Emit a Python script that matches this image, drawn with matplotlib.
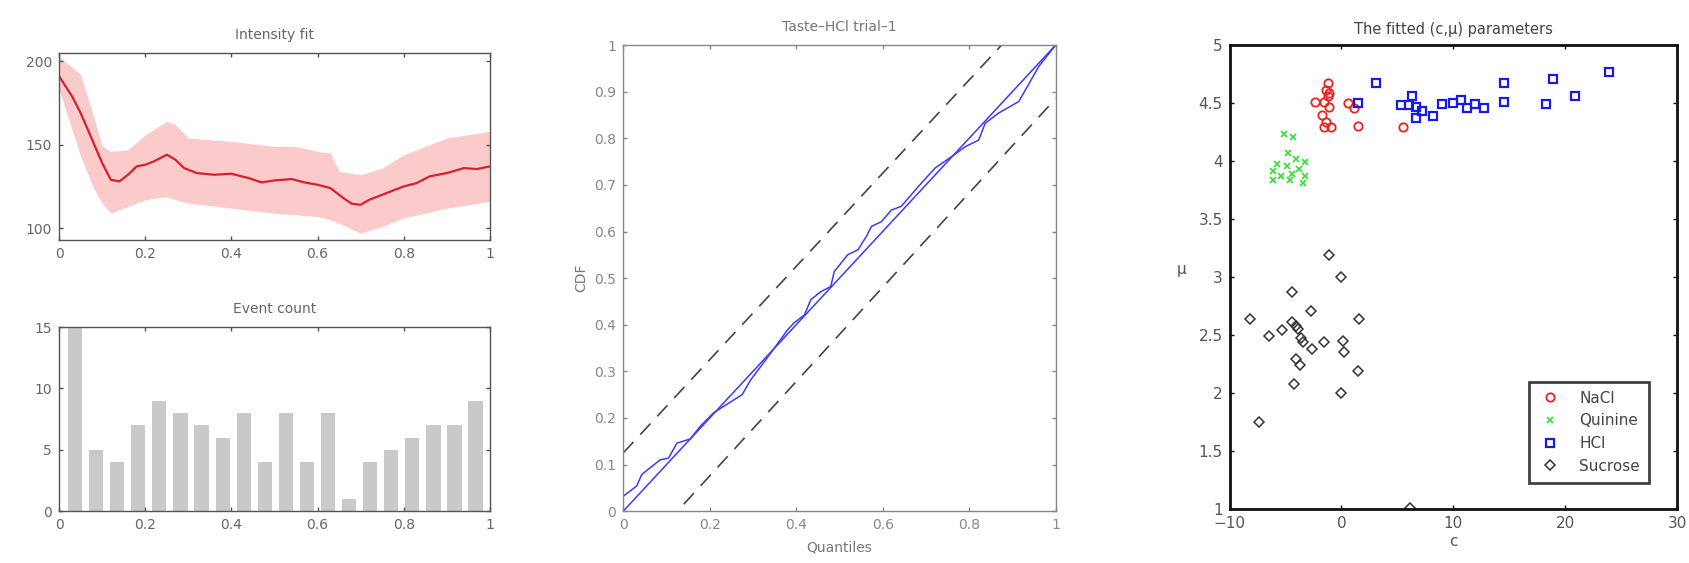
import matplotlib
matplotlib.use('Agg')
import matplotlib.pyplot as plt
from matplotlib.ticker import FuncFormatter
import numpy as np

# --- intensity fit (top left)
t_fit = [0, 0.03, 0.05, 0.08, 0.1, 0.12, 0.14, 0.16, 0.18, 0.2, 0.22, 0.25, 0.27, 0.29,
         0.32, 0.36, 0.4, 0.44, 0.47, 0.5, 0.54, 0.57, 0.6, 0.63, 0.66, 0.68, 0.7, 0.72,
         0.75, 0.78, 0.8, 0.83, 0.86, 0.9, 0.94, 0.97, 1.0]
rate_fit = [191, 179, 169, 151, 139, 129, 128, 132, 137, 138, 140, 144, 141, 136,
            133, 132, 132.6, 130, 127.4, 128.6, 129.4, 127.4, 126, 124, 118, 114.6, 114, 117,
            120, 123, 125, 127, 131, 133, 136, 135.4, 137]
t_band = [0, 0.05, 0.08, 0.1, 0.12, 0.16, 0.2, 0.25, 0.27, 0.3, 0.4, 0.5, 0.55, 0.6,
          0.63, 0.65, 0.7, 0.75, 0.8, 0.85, 0.9, 1.0]
band_hi = [203, 192, 167, 149, 146, 147, 156, 164, 162, 154, 152, 149, 149, 146,
           145, 134, 132, 136, 144, 149, 154, 158]
band_lo = [183, 143, 124, 115, 109, 113, 117, 119, 117, 115, 112, 109, 108, 107,
           105, 103, 97, 101, 106, 109, 112, 116]

# --- event count (bottom left)
bin_centers = np.linspace(0.037, 0.967, 20)
counts = [15, 5, 4, 7, 9, 8, 7, 6, 8, 4, 8, 4, 8, 1, 4, 5, 6, 7, 7, 9]

# --- KS plot (middle)
ks_x = [0, 0.031, 0.043, 0.085, 0.105, 0.124, 0.155, 0.178, 0.209, 0.256, 0.275, 0.295,
        0.341, 0.38, 0.395, 0.419, 0.434, 0.457, 0.48, 0.488, 0.519, 0.543, 0.562, 0.574,
        0.597, 0.62, 0.643, 0.682, 0.721, 0.76, 0.791, 0.822, 0.837, 0.868, 0.915, 0.961, 1.0]
ks_y = [0.032, 0.054, 0.079, 0.11, 0.114, 0.146, 0.155, 0.182, 0.211, 0.239, 0.25, 0.282,
        0.339, 0.389, 0.404, 0.421, 0.454, 0.471, 0.482, 0.514, 0.55, 0.561, 0.589, 0.611,
        0.621, 0.646, 0.654, 0.696, 0.736, 0.761, 0.782, 0.796, 0.832, 0.854, 0.879, 0.954, 1.0]
upper_x = [0, 0.875]
upper_y = [0.125, 1]
lower_x = [0.14, 1]
lower_y = [0.015, 0.885]

# --- fitted parameters (right)
nacl_c = [-1.25, -1.4, -1.25, -2.4, -1.6, -1.1, -1.75, -1.4, -1.6, -0.9, 0.6, 1.1, 1.45, 5.5, -1.1]
nacl_mu = [4.67, 4.61, 4.56, 4.51, 4.51, 4.47, 4.4, 4.34, 4.29, 4.29, 4.5, 4.46, 4.3, 4.29, 4.59]
quin_c = [-5.1, -4.3, -4.8, -4.1, -3.3, -5.8, -4.9, -3.8, -6.1, -4.4, -3.3, -6.1, -3.4, -5.4, -4.6]
quin_mu = [4.23, 4.21, 4.07, 4.02, 3.99, 3.97, 3.96, 3.93, 3.91, 3.89, 3.87, 3.84, 3.81, 3.87, 3.84]
hcl_c = [3.1, 1.45, 5.3, 6.0, 6.3, 6.65, 7.2, 6.65, 8.2, 9.0, 10.0, 10.7, 11.2, 11.9, 12.7,
         14.55, 14.55, 18.25, 18.9, 20.9, 23.9]
hcl_mu = [4.67, 4.5, 4.48, 4.48, 4.56, 4.47, 4.43, 4.37, 4.39, 4.49, 4.5, 4.53, 4.46, 4.49, 4.46,
          4.67, 4.51, 4.49, 4.71, 4.56, 4.77]
suc_c = [-1.1, -0.07, -4.45, -8.2, -2.75, 1.6, -6.45, -5.3, -4.45, -4.1, -3.9, -3.6, -3.4,
         -2.6, -1.6, 0.1, 0.25, -4.1, -3.75, 1.45, -4.2, 0.0, -7.4, 6.15]
suc_mu = [3.19, 3.0, 2.87, 2.64, 2.71, 2.64, 2.49, 2.54, 2.61, 2.58, 2.55, 2.47, 2.44,
          2.38, 2.44, 2.45, 2.35, 2.29, 2.24, 2.19, 2.08, 2.0, 1.75, 1.01]

gfmt = FuncFormatter(lambda v, p: ('%g' % round(v, 6)).replace('-', '\u2212'))


def matlab_axes(ax, tcol='#666666', scol='#555555', lw=1.0, fs=10):
    for s in ax.spines.values():
        s.set_color(scol)
        s.set_linewidth(lw)
    ax.tick_params(direction='in', top=True, right=True, length=3, width=1,
                   colors=scol, labelcolor=tcol, labelsize=fs, pad=5)
    ax.xaxis.set_major_formatter(gfmt)
    ax.yaxis.set_major_formatter(gfmt)


fig = plt.figure(figsize=(16.89, 5.63), dpi=100)

# top left
ax1 = fig.add_axes([0.035, 0.574, 0.255, 0.332])
ax1.fill_between(t_band, band_lo, band_hi, color='#fbcaca', lw=0)
ax1.plot(t_fit, rate_fit, color='#d8202a', lw=1.6)
ax1.set_xlim(0, 1)
ax1.set_ylim(93, 205)
ax1.set_xticks([0, 0.2, 0.4, 0.6, 0.8, 1])
ax1.set_yticks([100, 150, 200])
ax1.set_title('Intensity fit', fontsize=10, color='#666666', pad=10)
matlab_axes(ax1)

# bottom left
ax2 = fig.add_axes([0.035, 0.092, 0.255, 0.327])
ax2.bar(bin_centers, counts, width=0.033, color='#c8c9c8')
ax2.set_xlim(0, 1)
ax2.set_ylim(0, 15)
ax2.set_xticks([0, 0.2, 0.4, 0.6, 0.8, 1])
ax2.set_yticks([0, 5, 10, 15])
ax2.set_title('Event count', fontsize=10, color='#666666', pad=10)
matlab_axes(ax2)

# middle
ax3 = fig.add_axes([0.369, 0.092, 0.256, 0.828])
ax3.plot([0, 1], [0, 1], color='#3c3cf0', lw=1.1)
ax3.plot(ks_x, ks_y, color='#3c3cf0', lw=1.1)
ax3.plot(upper_x, upper_y, color='#444444', lw=1.2, ls=(0, (9, 6)))
ax3.plot(lower_x, lower_y, color='#444444', lw=1.2, ls=(0, (9, 6)))
ax3.set_xlim(0, 1)
ax3.set_ylim(0, 1)
ax3.set_xticks(np.arange(0, 1.01, 0.2))
ax3.set_yticks(np.arange(0, 1.01, 0.1))
ax3.set_title('Taste\u2013HCl trial\u20131', fontsize=10, color='#777777', pad=10)
ax3.set_xlabel('Quantiles', fontsize=10, color='#777777', labelpad=6)
ax3.set_ylabel('CDF', fontsize=10, color='#777777', labelpad=4)
matlab_axes(ax3, tcol='#888888', scol='#888888')

# right
ax4 = fig.add_axes([0.728, 0.096, 0.265, 0.824])
ax4.plot(nacl_c, nacl_mu, 'o', mfc='none', mec='#ee2020', mew=1.3, ms=6, label='NaCl')
ax4.plot(quin_c, quin_mu, 'x', color='#30e030', mew=1.2, ms=4, label='Quinine')
ax4.plot(hcl_c, hcl_mu, 's', mfc='none', mec='#1a1ae8', mew=1.6, ms=5.5, label='HCl')
ax4.plot(suc_c, suc_mu, 'D', mfc='none', mec='#333333', mew=1.1, ms=5, label='Sucrose')
ax4.set_xlim(-10, 30)
ax4.set_ylim(1, 5)
ax4.set_xticks([-10, 0, 10, 20, 30])
ax4.set_yticks(np.arange(1, 5.01, 0.5))
ax4.set_title('The fitted (c,\u03bc) parameters', fontsize=10.5, color='#444444', pad=8)
ax4.set_xlabel('c', fontsize=11, color='#555555', labelpad=2)
ax4.set_ylabel('\u03bc', fontsize=11, color='#555555', rotation=0, labelpad=12)
matlab_axes(ax4, tcol='#555555', scol='#111111', lw=2.0, fs=11)
leg = ax4.legend(loc='lower right', bbox_to_anchor=(0.955, 0.04), fontsize=11,
                 frameon=True, fancybox=False, borderpad=0.6, labelspacing=0.5,
                 handletextpad=1.2, handlelength=1.5)
leg.get_frame().set_edgecolor('#111111')
leg.get_frame().set_linewidth(2.0)
for txt in leg.get_texts():
    txt.set_color('#444444')

fig.savefig('out.png', dpi=100)
